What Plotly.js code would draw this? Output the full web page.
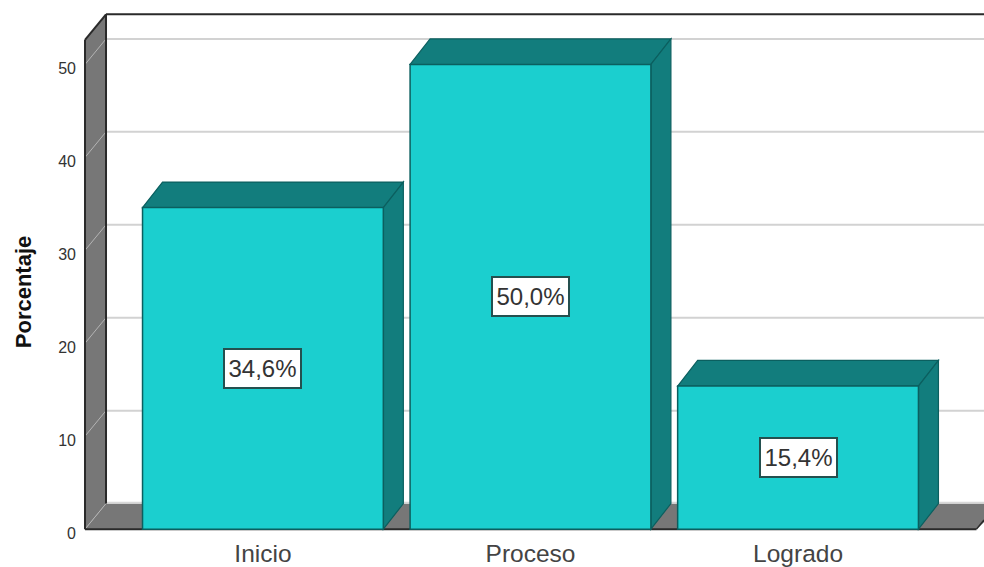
<!DOCTYPE html>
<html>
<head>
<meta charset="utf-8">
<script src="https://cdn.plot.ly/plotly-3.0.1.min.js"></script>
<style>html,body{margin:0;padding:0;background:#fff;}#c{width:984px;height:567px;}</style>
</head>
<body>
<div id="c"></div>
<script>
const categories = ["Inicio", "Proceso", "Logrado"];
const percentages = [34.6, 50.0, 15.4];
const barLabels = ["34,6%", "50,0%", "15,4%"];
const yTicks = [0, 10, 20, 30, 40, 50];
const yTitle = "Porcentaje";

const BAR_WIDTH = 0.9;
const XWALL = -0.665, XMAX = 2.695;
const YMAX = 55.54, YMIN = -0.2;
const WALL_DX = 21 / 267.5;
const DX = 20 / 267.5;   // depth offset, category units
const DY = 2.75;         // depth offset, value units
const FLOOR_END = 2.667; // front right corner of the floor
const WALL_TOP = 52.65;

const FACE = "#1bcfcf", SIDE = "#127d7d", EDGE = "#0b5f5f";
const WALL = "#777777", GRID = "#d2d2d2", FRAME = "#2a2a2a";
const FONT = "Liberation Sans, Arial, sans-serif";

const poly = (pts, fill, line, width) => ({
  type: "path", xref: "x", yref: "y", layer: "below",
  path: "M" + pts.map(p => p[0] + "," + p[1]).join("L") + "Z",
  fillcolor: fill, line: {color: line, width: width}
});
const seg = (x0, y0, x1, y1, color, width) => ({
  type: "line", xref: "x", yref: "y", layer: "below",
  x0, y0, x1, y1, line: {color, width}
});

const shapes = [];
const xBack = XWALL + WALL_DX;
// back-wall grid lines
yTicks.slice(1).forEach(t => shapes.push(seg(xBack, t + DY, XMAX, t + DY, GRID, 2)));
// floor
shapes.push(poly([[XWALL, 0], [xBack, DY], [XMAX + DX, DY], [FLOOR_END, 0]], WALL, WALL, 0));
shapes.push(seg(xBack, DY + 0.1, XMAX, DY + 0.1, "#d8d8d8", 2));
// left wall
shapes.push(poly([[XWALL, 0], [xBack, DY], [xBack, WALL_TOP + DY], [XWALL, WALL_TOP]], WALL, WALL, 0));
// wall grid diagonals
yTicks.forEach(t => shapes.push(seg(XWALL, t, xBack, t + DY, "#b4b4b4", 1)));
// frame
shapes.push(seg(XWALL, 0, XWALL, WALL_TOP, FRAME, 2));
shapes.push(seg(XWALL, WALL_TOP, xBack, WALL_TOP + DY, FRAME, 2));
shapes.push(seg(xBack, DY, xBack, WALL_TOP + DY, FRAME, 2));
shapes.push(seg(xBack, WALL_TOP + DY, XMAX, WALL_TOP + DY, FRAME, 2));
shapes.push(seg(XWALL, 0, FLOOR_END, 0, FRAME, 2));
shapes.push(seg(FLOOR_END, 0, XMAX, DY * (XMAX - FLOOR_END) / WALL_DX, FRAME, 1.5));
// 3D top and side of each bar
percentages.forEach((v, i) => {
  const l = i - BAR_WIDTH / 2, r = i + BAR_WIDTH / 2;
  shapes.push(poly([[l, v], [l + DX, v + DY], [r + DX, v + DY], [r, v]], SIDE, EDGE, 1.2));
  shapes.push(poly([[r, 0], [r + DX, DY], [r + DX, v + DY], [r, v]], SIDE, EDGE, 1.2));
});

const annotations = percentages.map((v, i) => ({
  x: i, y: v / 2, xref: "x", yref: "y", text: barLabels[i], showarrow: false,
  font: {family: FONT, size: 24, color: "#333"},
  bgcolor: "#fff", bordercolor: "#24504f", borderwidth: 2, borderpad: 0,
  width: 75, height: 37, align: "center", valign: "middle"
}));
annotations.push({
  xref: "paper", yref: "y", x: -0.0666, y: 25.6, xanchor: "center", yanchor: "middle",
  text: "<b>" + yTitle + "</b>", showarrow: false,
  textangle: -90, font: {family: FONT, size: 22, color: "#111"}
});

Plotly.newPlot("c", [{
  type: "bar", x: categories, y: percentages, width: BAR_WIDTH,
  marker: {color: FACE, line: {color: EDGE, width: 1.5}},
  hoverinfo: "skip"
}], {
  width: 984, height: 567,
  margin: {l: 83, r: 0, t: 13, b: 35.64},
  paper_bgcolor: "#fff", plot_bgcolor: "#fff",
  showlegend: false,
  xaxis: {
    type: "category", categories: categories, categoryorder: "array", categoryarray: categories,
    range: [-0.6725, XMAX], showgrid: false, zeroline: false, showline: false, ticks: "",
    ticklabelstandoff: 5,
    tickfont: {family: FONT, size: 24.5, color: "#444"}
  },
  yaxis: {
    range: [YMIN, YMAX], tickvals: yTicks, showgrid: false, zeroline: false, showline: false, ticks: "",
    ticklabelstandoff: 6, ticklabelshift: 4,
    tickfont: {family: FONT, size: 16, color: "#333"}
  },
  shapes: shapes,
  annotations: annotations
}, {displayModeBar: false, staticPlot: true});
</script>
</body>
</html>
